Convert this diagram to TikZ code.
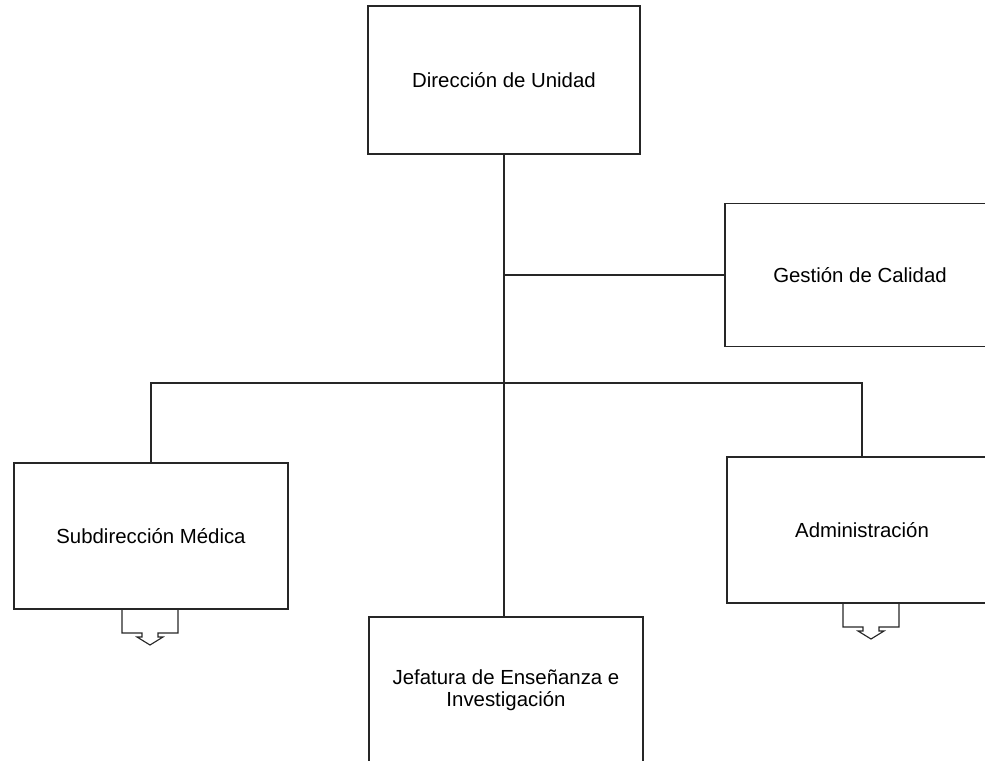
\documentclass[tikz,border=0pt]{standalone}
\usepackage{fontspec}
\setmainfont{Liberation Sans}

\begin{document}
\begin{tikzpicture}[x=0.025cm,y=-0.025cm]
        \tikzstyle{every node}=[font=\fontsize{14.5}{15.5}\selectfont]
        \tikzstyle{caja}=[draw=black!85,line width=0.8pt,fill=white,align=center,inner sep=0pt]
        \tikzstyle{linea}=[draw=black!85,line width=0.8pt]
        \useasboundingbox (0,0) rectangle (985,761);
        \clip (0,0) rectangle (985,761);
        \node[caja,minimum width=6.8cm,minimum height=3.7cm] (dir) at (504,80) {Dirección de Unidad};
        \node[caja,minimum width=6.75cm,minimum height=3.58cm] (gest) at (860,275) {Gestión de Calidad};
        \node[caja,minimum width=6.85cm,minimum height=3.65cm] (sub) at (151,536) {Subdirección Médica};
        \node[caja,minimum width=6.75cm,minimum height=3.65cm] (adm) at (862,530) {Administración};
        \node[caja,minimum width=6.85cm,minimum height=3.65cm] (jef) at (506,690) {Jefatura de Enseñanza e\\Investigación};
        \coordinate (bus) at (504,383);
        \draw[linea] (dir.south) -- (dir.south |- jef.north);
        \draw[linea] (dir.south |- gest.west) -- (gest.west);
        \draw[linea] (sub.north) -- (sub.north |- bus) -- (adm.north |- bus) -- (adm.north);
        % salidas
        \coordinate (outsub) at (150,609);
        \coordinate (outadm) at (871,603);
        \foreach \c in {outsub,outadm}
          \draw[linea] (\c) ++(-28,0) -- ++(0,24) -- ++(20,0) -- ++(0,4) -- ++(-5,0)
            -- ++(13,8) -- ++(13,-8) -- ++(-5,0) -- ++(0,-4) -- ++(20,0) -- ++(0,-24);
\end{tikzpicture}
\end{document}
